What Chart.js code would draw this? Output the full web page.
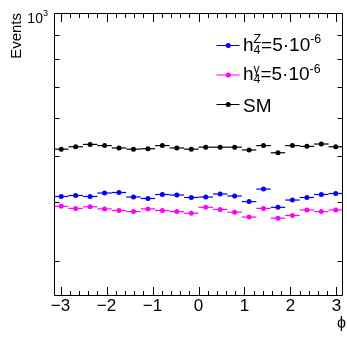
<!DOCTYPE html>
<html>
<head>
<meta charset="utf-8">
<script src="https://cdn.jsdelivr.net/npm/chart.js@4.4.0/dist/chart.umd.min.js"></script>
<style>
  html, body { margin: 0; padding: 0; background: #fff; }
</style>
</head>
<body>
<canvas id="myChart" width="347" height="340"></canvas>
<script>
// 20 phi bins over -pi..pi
var phiCenters = [-2.9845, -2.6704, -2.3562, -2.0420, -1.7279, -1.4137, -1.0996, -0.7854, -0.4712, -0.1571,
                  0.1571, 0.4712, 0.7854, 1.0996, 1.4137, 1.7279, 2.0420, 2.3562, 2.6704, 2.9845];
var binHalfWidth = 0.1571;

var smEvents  = [517, 523, 529, 526, 520, 517, 518, 526, 520, 517, 522, 522, 522, 515, 526, 508, 526, 524, 530, 523];
var h4zEvents = [411, 413, 411, 418, 419, 410, 407, 415, 414, 409, 410, 416, 412, 401, 426, 390, 404, 409, 415, 417];
var h4gEvents = [392, 388, 391, 387, 384, 382, 387, 384, 382, 379, 390, 386, 381, 372, 388, 370, 375, 385, 382, 385];

var xTicks = [-3, -2, -1, 0, 1, 2, 3];
var xTickLabels = ['\u22123', '\u22122', '\u22121', '0', '1', '2', '3'];
var yTicks = [1000];
var yTickLabels = [[{t: '10'}, {sup: '3'}]];
var yMinorTicks = [300, 400, 500, 600, 700, 800, 900];

// legend text pieces: plain text, or a stacked sup/sub pair
var legendZ = [{t: 'h'}, {sup: 'Z', sub: '4'}, {t: '=5\u00b710'}, {sup: '-6'}];
var legendG = [{t: 'h'}, {sup: '\u03b3', sub: '4'}, {t: '=5\u00b710'}, {sup: '-6'}];
var legendSM = [{t: 'SM'}];

var FONT = '"Liberation Sans", Arial, Helvetica, sans-serif';
Chart.defaults.font.family = FONT;
Chart.defaults.color = '#000';

function points(vals) {
    return vals.map(function(v, i) { return {x: phiCenters[i], y: v}; });
}

function measureRich(ctx, parts, size) {
    var w = 0;
    parts.forEach(function(p) {
        if (p.t) { ctx.font = size + 'px ' + FONT; w += ctx.measureText(p.t).width; }
        else {
            ctx.font = (size * 0.65) + 'px ' + FONT;
            w += Math.max(p.sup ? ctx.measureText(p.sup).width : 0, p.sub ? ctx.measureText(p.sub).width : 0);
        }
    });
    return w;
}

function drawRich(ctx, parts, x, base, size, raise) {
    ctx.textAlign = 'left';
    ctx.textBaseline = 'alphabetic';
    parts.forEach(function(p) {
        if (p.t) {
            ctx.font = size + 'px ' + FONT;
            ctx.fillText(p.t, x, base);
            x += ctx.measureText(p.t).width;
        } else {
            var s = size * 0.65, w = 0;
            ctx.font = s + 'px ' + FONT;
            if (p.sup) { ctx.fillText(p.sup, x, base - size * raise); w = ctx.measureText(p.sup).width; }
            if (p.sub) { ctx.fillText(p.sub, x, base + size * 0.16); w = Math.max(w, ctx.measureText(p.sub).width); }
            x += w;
        }
    });
}

var rootStyle = {
    id: 'rootStyle',
    beforeDatasetsDraw: function(chart) {
        // horizontal bin-width bars
        var ctx = chart.ctx, xs = chart.scales.x, ys = chart.scales.y;
        ctx.save();
        chart.data.datasets.forEach(function(ds) {
            ctx.strokeStyle = ds.borderColor;
            ctx.lineWidth = 1.2;
            ds.data.forEach(function(p) {
                var py = ys.getPixelForValue(p.y);
                ctx.beginPath();
                ctx.moveTo(xs.getPixelForValue(p.x - binHalfWidth), py);
                ctx.lineTo(xs.getPixelForValue(p.x + binHalfWidth), py);
                ctx.stroke();
            });
        });
        ctx.restore();
    },
    afterDraw: function(chart) {
        var ctx = chart.ctx, a = chart.chartArea, xs = chart.scales.x, ys = chart.scales.y;
        var L = a.left + 0.5, R = a.right - 0.5, T = a.top + 0.5, B = a.bottom + 0.5;
        ctx.save();
        ctx.strokeStyle = '#000';
        ctx.lineWidth = 1;
        ctx.beginPath();
        ctx.rect(L, T, R - L, B - T);
        // x ticks, inside, bottom and top
        for (var k = -30; k <= 30; k += 2) {
            var v = k / 10;
            if (v < xs.min || v > xs.max) continue;
            var len = (k % 10 === 0) ? 8.5 : 4.5;
            var px = Math.round(xs.getPixelForValue(v)) + 0.5;
            ctx.moveTo(px, B); ctx.lineTo(px, B - len);
            ctx.moveTo(px, T); ctx.lineTo(px, T + len);
        }
        // y minor ticks, inside, left and right
        yMinorTicks.forEach(function(v) {
            var py = Math.round(ys.getPixelForValue(v)) + 0.5;
            ctx.moveTo(L, py); ctx.lineTo(L + 5, py);
            ctx.moveTo(R, py); ctx.lineTo(R - 5, py);
        });
        ctx.stroke();

        // y tick label (10^3)
        ctx.fillStyle = '#000';
        yTicks.forEach(function(v, i) {
            var w = measureRich(ctx, yTickLabels[i], 14);
            drawRich(ctx, yTickLabels[i], a.left - 6 - w, ys.getPixelForValue(v) + 9.7, 14, 0.48);
        });

        // legend
        var rows = [
            {parts: legendZ, color: '#0000ff', y: 45, off: 5.5},
            {parts: legendG, color: '#ff00ff', y: 74.5, off: 5.5},
            {parts: legendSM, color: '#000000', y: 104, off: 7.5}
        ];
        rows.forEach(function(r) {
            ctx.strokeStyle = r.color;
            ctx.fillStyle = r.color;
            ctx.lineWidth = 1;
            ctx.beginPath();
            ctx.moveTo(216.5, r.y + 0.5); ctx.lineTo(239.5, r.y + 0.5);
            ctx.stroke();
            ctx.beginPath();
            ctx.arc(228.3, r.y + 0.5, 2.5, 0, Math.PI * 2);
            ctx.fill();
            ctx.fillStyle = '#000';
            drawRich(ctx, r.parts, 243, r.y + r.off, 19, 0.37);
        });

        // x title
        ctx.fillStyle = '#000';
        ctx.font = '16px ' + FONT;
        ctx.textAlign = 'right';
        ctx.textBaseline = 'alphabetic';
        ctx.fillText('\u03d5', 346, 328);
        ctx.restore();
    }
};

var ctx = document.getElementById('myChart').getContext('2d');
var myChart = new Chart(ctx, {
    type: 'scatter',
    data: {
        datasets: [
            {label: 'hZ', data: points(h4zEvents), backgroundColor: '#0000ff', borderColor: '#0000ff', pointRadius: 2.5, borderWidth: 0},
            {label: 'hG', data: points(h4gEvents), backgroundColor: '#ff00ff', borderColor: '#ff00ff', pointRadius: 2.5, borderWidth: 0},
            {label: 'SM', data: points(smEvents), backgroundColor: '#000000', borderColor: '#000000', pointRadius: 2.5, borderWidth: 0}
        ]
    },
    options: {
        responsive: false,
        animation: false,
        layout: {padding: {top: 13, right: 0, left: 0, bottom: 0}},
        plugins: {legend: {display: false}, tooltip: {enabled: false}},
        scales: {
            x: {
                type: 'linear',
                min: -Math.PI,
                max: Math.PI,
                afterBuildTicks: function(s) { s.ticks = xTicks.map(function(v) { return {value: v}; }); },
                afterFit: function(s) { s.height = 45; },
                grid: {display: false, drawTicks: false},
                border: {display: false},
                ticks: {
                    autoSkip: false, maxRotation: 0, padding: 1, color: '#000',
                    font: {size: 17},
                    callback: function(v, i) { return xTickLabels[i]; }
                }
            },
            y: {
                type: 'logarithmic',
                min: 255,
                max: 1000,
                afterBuildTicks: function(s) { s.ticks = yTicks.map(function(v) { return {value: v}; }); },
                afterFit: function(s) { s.width = 54; },
                grid: {display: false, drawTicks: false},
                border: {display: false},
                ticks: {display: false},
                title: {display: true, text: 'Events', align: 'end', color: '#000', font: {size: 15}, padding: {top: 8, bottom: 0}}
            }
        }
    },
    plugins: [rootStyle]
});
</script>
</body>
</html>
